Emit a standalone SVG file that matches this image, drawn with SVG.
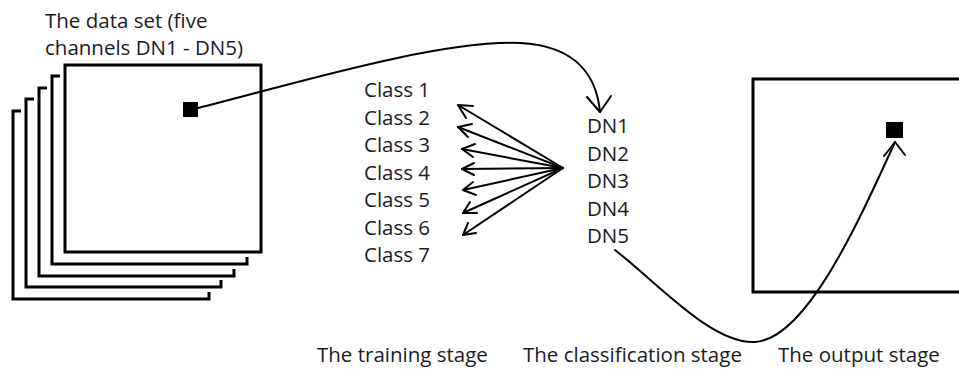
<svg xmlns="http://www.w3.org/2000/svg" width="959" height="369" viewBox="0 0 959 369">
<style>
text{font-family:"Open Sans","Noto Sans",sans-serif;font-size:20.5px;fill:#1a1a22}
.frame{fill:none;stroke:#000;stroke-width:3}
.conn{fill:none;stroke:#000;stroke-width:2;stroke-linecap:round;stroke-linejoin:round}
</style>
<rect width="959" height="369" fill="#fff"/>
<g id="dataset">
<polyline class="frame" points="21,111 13,111 13,299 209,299 209,292"/>
<polyline class="frame" points="34,99 26,99 26,287 221,287 221,280"/>
<polyline class="frame" points="47,88 39,88 39,276 234,276 234,269"/>
<polyline class="frame" points="60,76 52,76 52,264 247,264 247,257"/>
<rect class="frame" x="65" y="65" width="196" height="187" fill="#fff"/>
<rect x="183" y="102" width="15" height="15" fill="#000"/>
<text x="45" y="28">The data set (five</text>
<text x="45" y="55">channels DN1 - DN5)</text>
</g>
<g id="training">
<text x="364" y="97">Class 1</text>
<text x="364" y="124.5">Class 2</text>
<text x="364" y="152">Class 3</text>
<text x="364" y="179.5">Class 4</text>
<text x="364" y="207">Class 5</text>
<text x="364" y="234.5">Class 6</text>
<text x="364" y="262">Class 7</text>
</g>
<g id="classification">
<text x="587" y="133">DN1</text>
<text x="587" y="160.5">DN2</text>
<text x="587" y="188">DN3</text>
<text x="587" y="215.5">DN4</text>
<text x="587" y="243">DN5</text>
</g>
<g id="output">
<rect class="frame" x="753" y="79" width="215" height="213"/>
<rect x="886" y="122" width="17" height="16" fill="#000"/>
</g>
<g id="labels">
<text x="317" y="362">The training stage</text>
<text x="523" y="362">The classification stage</text>
<text x="778" y="362">The output stage</text>
</g>
<g id="connectors">
<path class="conn" d="M198,108 C300,82 440,40 520,43 C580,46 597,80 600,112"/>
<polyline class="conn" points="587,97 600,112 611,96"/>
<path class="conn" d="M615,250 C660,285 712,344 755,342 C805,339 855,230 895,142"/>
<polyline class="conn" points="884,156 895,142 905,155"/>
<g>
<line class="conn" x1="563" y1="168" x2="458" y2="105"/>
<polyline class="conn" points="473,106 458,105 466,118"/>
<line class="conn" x1="563" y1="168" x2="458" y2="127"/>
<polyline class="conn" points="472,124 458,127 468,137"/>
<line class="conn" x1="563" y1="168" x2="462" y2="149"/>
<polyline class="conn" points="475,144 462,149 473,157"/>
<line class="conn" x1="563" y1="168" x2="462" y2="169"/>
<polyline class="conn" points="474,163 462,169 474,175"/>
<line class="conn" x1="563" y1="168" x2="463" y2="190"/>
<polyline class="conn" points="473,182 463,190 476,195"/>
<line class="conn" x1="563" y1="168" x2="463" y2="213"/>
<polyline class="conn" points="470,202 463,213 477,213"/>
<line class="conn" x1="563" y1="168" x2="463" y2="235"/>
<polyline class="conn" points="468,223 463,235 476,233"/>
</g>
</g>
</svg>
